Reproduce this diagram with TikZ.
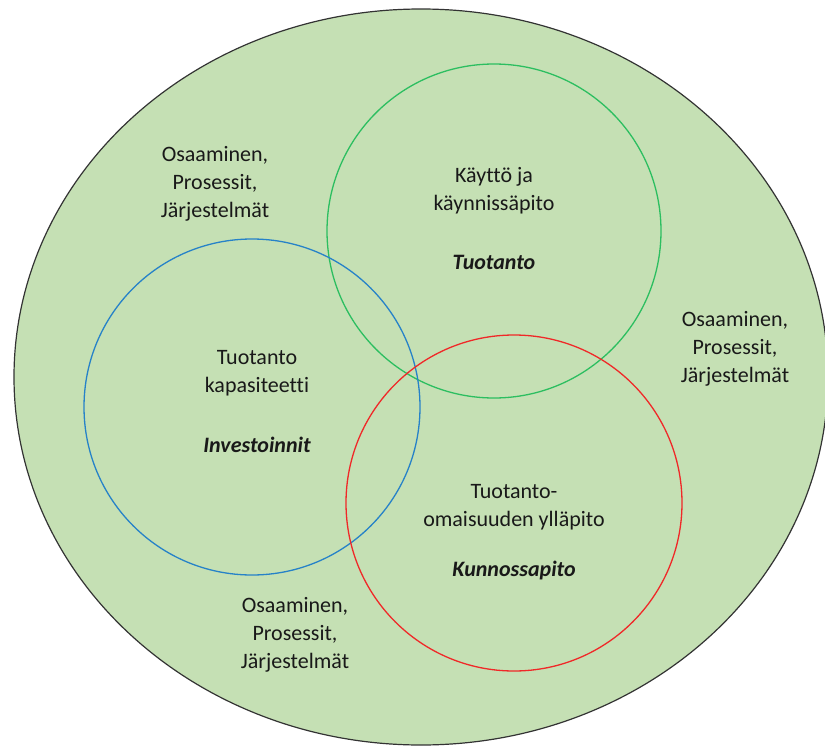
\documentclass[tikz,border=0pt]{standalone}
\usepackage{fontspec}
\setmainfont{Carlito}[Ligatures=NoCommon]
\usetikzlibrary{positioning}
\definecolor{fieldColor}{RGB}{197,224,180}
\definecolor{productionColor}{RGB}{44,190,96}
\definecolor{investColor}{RGB}{38,130,200}
\definecolor{upkeepColor}{RGB}{240,40,40}
\tikzstyle{diagram} = [x = 1pt, y = -1pt]
\tikzstyle{fieldStyle} = [draw=black!80, fill=fieldColor, line width=1.2pt]
\tikzstyle{areaStyle} = [line width=1.3pt]
\tikzstyle{areaText} = [font=\fontsize{22}{28}\selectfont, align=center, text=black!90, inner sep=0pt]
\tikzstyle{areaTitle} = [areaText, font=\fontsize{22}{28}\selectfont\bfseries\itshape]
\newcommand{\area}[4]{\draw [areaStyle, color=#4] (#1, #2) circle (#3);}
\newcommand{\skills}[3]{\node [areaText] (#1) at (#2, #3) {Osaaminen,\\Prosessit,\\Järjestelmät};}

\begin{document}
\begin{tikzpicture}[diagram]
  \useasboundingbox (0,0) rectangle (825,747);
  \draw [fieldStyle] (421,377) ellipse (407 and 368);

  \area{494}{231}{167}{productionColor}
  \area{252}{407}{168}{investColor}
  \area{514}{503}{168}{upkeepColor}

  \skills{skillsTopLeft}{215}{184}
  \skills{skillsRight}{735}{349}
  \skills{skillsBottom}{295}{635}

  \node [areaText] (useText) at (494,191) {Käyttö ja\\käynnissäpito};
  \node [areaTitle] (useTitle) at (494,262) {Tuotanto};
  \node [areaText] (capacityText) at (257,373) {Tuotanto\\kapasiteetti};
  \node [areaTitle] (capacityTitle) at (257,445) {Investoinnit};
  \node [areaText] (upkeepText) at (514,507) {Tuotanto-\\omaisuuden ylläpito};
  \node [areaTitle] (upkeepTitle) at (514,571) {Kunnossapito};
\end{tikzpicture}
\end{document}
